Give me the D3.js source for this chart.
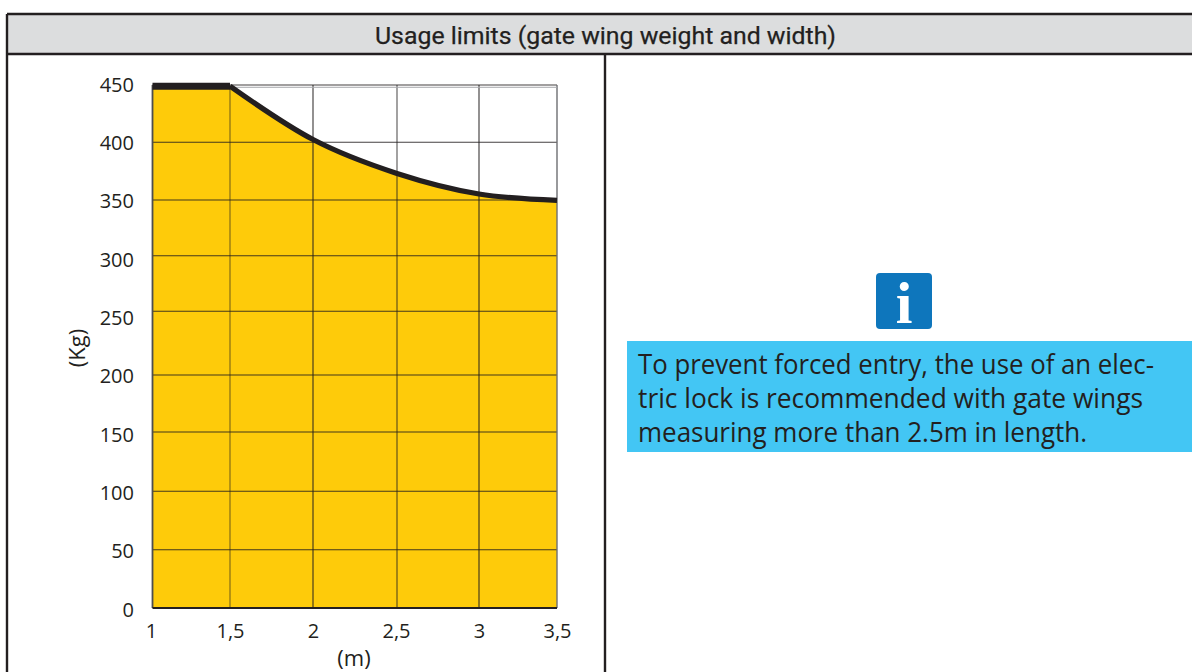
<!DOCTYPE html>
<html>
<head>
<meta charset="utf-8">
<script src="https://cdn.jsdelivr.net/npm/d3@7"></script>
<style>
  html, body { margin: 0; padding: 0; background: #fff; overflow: hidden; }
  svg { display: block; }
  .tickLabel text { font-family: "Open Sans", sans-serif; font-size: 20px; fill: #231f20; }
  .axisTitle { font-family: "Open Sans", sans-serif; font-size: 22px; fill: #231f20; text-anchor: middle; }
  .title { font-family: Roboto, sans-serif; font-size: 24px; font-weight: 400; fill: #231f20; stroke: #231f20; stroke-width: 0.25px; }
  .note { font-family: "Open Sans", sans-serif; font-size: 27px; fill: #231f20; }
</style>
</head>
<body>
<script>
const WIDTH = 1192;
const HEIGHT = 672;

const titleText = 'Usage limits (gate wing weight and width)';
const noteLines = [
  'To prevent forced entry, the use of an elec-',
  'tric lock is recommended with gate wings',
  'measuring more than 2.5m in length.'
];

const widthTicks = [1, 1.5, 2, 2.5, 3, 3.5];
const weightTicks = [0, 50, 100, 150, 200, 250, 300, 350, 400, 450];

// limit curve
const flatWidths = [1, 1.5];
const flatWeights = [449, 449];
const curveWidths = [1.5, 2, 2.5, 3, 3.5];
const curveWeights = [449, 402.4, 373, 355.2, 349.6];

// the printed grid is not evenly spaced, so the scales go through each grid line
const xScale = d3.scaleLinear()
    .domain(widthTicks)
    .range([152.5, 230, 313, 397, 479, 557]);

const yScale = d3.scaleLinear()
    .domain(weightTicks)
    .range([608, 549.7, 491.3, 432, 375, 311.3, 255.7, 200, 142.3, 85]);

// the labels are evenly spaced though
const yLabelScale = d3.scaleLinear()
    .domain([0, 450])
    .range([609, 84]);

const xLabelScale = d3.scaleLinear()
    .domain(widthTicks)
    .range([151, 230, 313, 396, 479, 557]);

const comma = function(d) { return String(d).replace('.', ','); };

const svg = d3.select('body').append('svg')
    .attr('width', WIDTH)
    .attr('height', HEIGHT);

// header band and frame
svg.append('rect')
    .attr('x', 7).attr('y', 14)
    .attr('width', WIDTH - 7).attr('height', 40)
    .attr('fill', '#dcddde');

[[7, 14, WIDTH, 14], [7, 54, WIDTH, 54], [7, 14, 7, HEIGHT], [605, 54, 605, HEIGHT]].forEach(function(l) {
  svg.append('line')
      .attr('x1', l[0]).attr('y1', l[1])
      .attr('x2', l[2]).attr('y2', l[3])
      .attr('stroke', '#231f20')
      .attr('stroke-width', 2.4);
});

svg.append('text')
    .attr('class', 'title')
    .attr('x', 375).attr('y', 44)
    .attr('textLength', 461)
    .attr('lengthAdjust', 'spacingAndGlyphs')
    .text(titleText);

// fill under the limit
const limitPoints = flatWidths.map(function(d, i) { return {x: d, y: flatWeights[i]}; });
const curvePoints = curveWidths.map(function(d, i) { return {x: d, y: curveWeights[i]}; });

const area = d3.area()
    .x(function(d) { return xScale(d.x); })
    .y0(yScale(0))
    .y1(function(d) { return yScale(d.y); })
    .curve(d3.curveMonotoneX);

[limitPoints, curvePoints].forEach(function(points) {
  svg.append('path')
      .datum(points)
      .attr('d', area)
      .attr('fill', '#fecb0a');
});

// grid
svg.append('g')
    .selectAll('line')
    .data(weightTicks.slice(1))
    .enter()
    .append('line')
    .attr('x1', xScale(1))
    .attr('x2', xScale(3.5))
    .attr('y1', function(d) { return yScale(d); })
    .attr('y2', function(d) { return yScale(d); })
    .attr('stroke', '#231f20')
    .attr('stroke-opacity', 0.85)
    .attr('stroke-width', 1.1);

svg.append('g')
    .selectAll('line')
    .data(widthTicks.slice(1, 5))
    .enter()
    .append('line')
    .attr('x1', function(d) { return xScale(d); })
    .attr('x2', function(d) { return xScale(d); })
    .attr('y1', yScale(450))
    .attr('y2', yScale(0))
    .attr('stroke', '#231f20')
    .attr('stroke-opacity', function(d) { return d === 1.5 || d === 2.5 ? 0.6 : 0.9; })
    .attr('stroke-width', function(d) { return d === 2.5 ? 1.4 : 1.1; });

// plot edges
svg.append('line')
    .attr('x1', xScale(3.5)).attr('x2', xScale(3.5))
    .attr('y1', yScale(450)).attr('y2', yScale(0))
    .attr('stroke', '#6d6e71').attr('stroke-width', 1.4);
svg.append('line')
    .attr('x1', xScale(1.5)).attr('x2', xScale(3.5))
    .attr('y1', yScale(448)).attr('y2', yScale(448))
    .attr('stroke', '#a7a9ac').attr('stroke-width', 1);
svg.append('line')
    .attr('x1', xScale(1)).attr('x2', xScale(1))
    .attr('y1', yScale(450)).attr('y2', yScale(0))
    .attr('stroke', '#4d4d4f').attr('stroke-width', 1.8);
svg.append('line')
    .attr('x1', xScale(1)).attr('x2', xScale(3.5))
    .attr('y1', yScale(0)).attr('y2', yScale(0))
    .attr('stroke', '#231f20').attr('stroke-width', 1.8);

// limit line, thicker on the flat part
const limitLine = d3.line()
    .x(function(d) { return xScale(d.x); })
    .y(function(d) { return yScale(d.y); })
    .curve(d3.curveMonotoneX);

svg.append('path')
    .attr('d', limitLine(limitPoints))
    .attr('fill', 'none')
    .attr('stroke', '#231f20')
    .attr('stroke-width', 7);

svg.append('path')
    .attr('d', limitLine(curvePoints))
    .attr('fill', 'none')
    .attr('stroke', '#231f20')
    .attr('stroke-width', 5.2);

// tick labels
const yAxis = d3.axisLeft(yLabelScale)
    .tickValues(weightTicks)
    .tickSize(0)
    .tickPadding(0);

const xAxis = d3.axisBottom(xLabelScale)
    .tickValues(widthTicks)
    .tickFormat(comma)
    .tickSize(0)
    .tickPadding(0);

const yAxisG = svg.append('g')
    .attr('class', 'tickLabel')
    .attr('transform', 'translate(134,0)')
    .call(yAxis);
yAxisG.select('.domain').remove();
yAxisG.selectAll('text').attr('dy', '0.35em');

const xAxisG = svg.append('g')
    .attr('class', 'tickLabel')
    .attr('transform', 'translate(0,624)')
    .call(xAxis);
xAxisG.select('.domain').remove();

svg.append('text')
    .attr('class', 'axisTitle')
    .attr('transform', 'translate(85,348) rotate(-90)')
    .text('(Kg)');

svg.append('text')
    .attr('class', 'axisTitle')
    .attr('x', 354).attr('y', 666)
    .text('(m)');

// info icon
svg.append('rect')
    .attr('x', 876).attr('y', 273)
    .attr('width', 56).attr('height', 56)
    .attr('rx', 4)
    .attr('fill', '#0e76bc');

svg.append('text')
    .attr('x', 904).attr('y', 323)
    .attr('text-anchor', 'middle')
    .attr('font-family', '"Liberation Serif", serif')
    .attr('font-weight', 'bold')
    .attr('font-size', 60)
    .attr('fill', '#fff')
    .text('i');

// note box
svg.append('rect')
    .attr('x', 627).attr('y', 341)
    .attr('width', WIDTH - 627).attr('height', 111)
    .attr('fill', '#43c6f4');

const noteLengths = [516, 505, 449];
svg.selectAll('.note')
    .data(noteLines)
    .enter()
    .append('text')
    .attr('class', 'note')
    .attr('x', 638)
    .attr('y', function(d, i) { return 374 + i * 34; })
    .attr('textLength', function(d, i) { return noteLengths[i]; })
    .attr('lengthAdjust', 'spacingAndGlyphs')
    .text(function(d) { return d; });
</script>
</body>
</html>
